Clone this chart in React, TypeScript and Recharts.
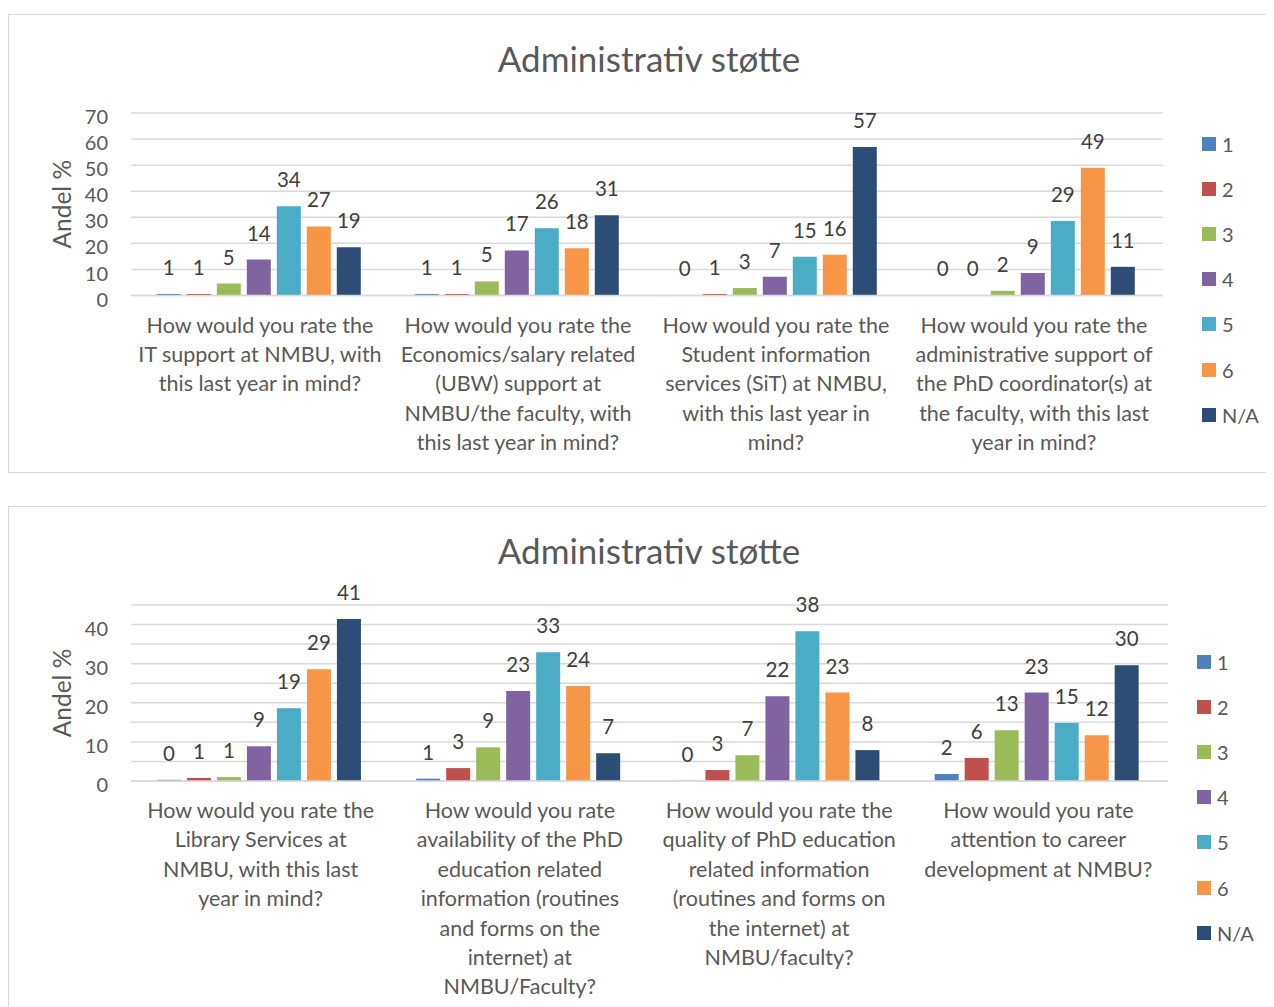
import { BarChart, Bar, XAxis, YAxis, CartesianGrid, LabelList } from "recharts";

const seriesNames = ["1", "2", "3", "4", "5", "6", "N/A"];
const COLORS = ["#4F81BD", "#C0504D", "#9BBB59", "#8064A2", "#4BACC6", "#F79646", "#2C4D75"];

const categoriesTop = [
  "How would you rate the\nIT support at NMBU, with\nthis last year in mind?",
  "How would you rate the\nEconomics/salary related\n(UBW) support at\nNMBU/the faculty, with\nthis last year in mind?",
  "How would you rate the\nStudent information\nservices (SiT) at NMBU,\nwith this last year in\nmind?",
  "How would you rate the\nadministrative support of\nthe PhD coordinator(s) at\nthe faculty, with this last\nyear in mind?",
];

// bars shown as "0" with no visible height are read as ~0.05
const top1 = [0.6, 0.6, 0.05, 0.05];
const top2 = [0.6, 0.6, 0.6, 0.05];
const top3 = [4.6, 5.4, 2.9, 1.8];
const top4 = [13.8, 17.3, 7.2, 8.6];
const top5 = [34.2, 25.8, 14.9, 28.6];
const top6 = [26.5, 18.1, 15.6, 49.0];
const topNA = [18.5, 30.8, 57.0, 11.0];

const categoriesBottom = [
  "How would you rate the\nLibrary Services at\nNMBU, with this last\nyear in mind?",
  "How would you rate\navailability of the PhD\neducation related\ninformation (routines\nand forms on the\ninternet) at\nNMBU/Faculty?",
  "How would you rate the\nquality of PhD education\nrelated information\n(routines and forms on\nthe internet) at\nNMBU/faculty?",
  "How would you rate\nattention to career\ndevelopment at NMBU?",
];

const bot1 = [0.3, 0.6, 0.05, 1.8];
const bot2 = [0.8, 3.3, 2.8, 5.9];
const bot3 = [1.0, 8.6, 6.6, 13.0];
const bot4 = [8.9, 23.0, 21.7, 22.6];
const bot5 = [18.6, 32.9, 38.3, 14.8];
const bot6 = [28.6, 24.3, 22.6, 11.7];
const botNA = [41.4, 7.1, 7.9, 29.6];

const ticksTop = [0, 10, 20, 30, 40, 50, 60, 70];
const ticksBottom = [0, 5, 10, 15, 20, 25, 30, 35, 40, 45];

const FONT = "Lato, 'Open Sans', sans-serif";
const TEXT = "#595959";
const GRID = "#d9d9d9";

const buildRows = (cats: string[], series: number[][]) =>
  cats.map((name, i) => {
    const row: Record<string, string | number> = { name };
    seriesNames.forEach((s, j) => {
      row[s] = series[j][i];
    });
    return row;
  });

const dataTop = buildRows(categoriesTop, [top1, top2, top3, top4, top5, top6, topNA]);
const dataBottom = buildRows(categoriesBottom, [bot1, bot2, bot3, bot4, bot5, bot6, botNA]);

const WrapTick = (props: any) => {
  const { x, y, payload } = props;
  const lines = String(payload.value).split("\n");
  return (
    <text x={x} y={y} textAnchor="middle" fill={TEXT} fontSize={21.5} fontFamily={FONT}>
      {lines.map((l, i) => (
        <tspan key={i} x={x} dy={i === 0 ? 35 : 29.4}>
          {l}
        </tspan>
      ))}
    </text>
  );
};

const AxisTitle = (props: any) => {
  const { viewBox } = props;
  const cx = 52;
  const cy = viewBox.y + viewBox.height / 2;
  return (
    <text
      x={cx}
      y={cy}
      transform={`rotate(-90, ${cx}, ${cy})`}
      textAnchor="middle"
      dominantBaseline="central"
      fill={TEXT}
      fontSize={24.5}
      fontFamily={FONT}
    >
      Andel %
    </text>
  );
};

const LegendBox = ({ left, top }: { left: number; top: number }) => (
  <div style={{ position: "absolute", left, top, fontFamily: FONT, fontSize: 20, color: TEXT }}>
    {seriesNames.map((s, i) => (
      <div key={s} style={{ display: "flex", alignItems: "center", height: 45.2 }}>
        <span style={{ width: 14, height: 14, background: COLORS[i], marginRight: 6 }} />
        <span>{s}</span>
      </div>
    ))}
  </div>
);

const Panel = ({
  data,
  ticks,
  domainMax,
  height,
  plotBottom,
  rightMargin,
  legendLeft,
  legendTop,
  showTick,
}: any) => (
  <div
    style={{
      position: "relative",
      width: 1290,
      height,
      border: `1.5px solid ${GRID}`,
      background: "#fff",
      boxSizing: "border-box",
    }}
  >
    <div
      style={{
        position: "absolute",
        left: 0,
        width: 1280,
        top: 23,
        lineHeight: "40px",
        textAlign: "center",
        fontFamily: FONT,
        fontSize: 35,
        color: TEXT,
      }}
    >
      Administrativ støtte
    </div>
    <BarChart
      width={1288}
      height={plotBottom + 260}
      data={data}
      margin={{ top: 98, right: rightMargin, left: 0, bottom: 90 }}
      barCategoryGap="10%"
      barGap={6}
    >
      <CartesianGrid vertical={false} stroke={GRID} strokeWidth={1.5} />
      <XAxis
        dataKey="name"
        interval={0}
        height={170}
        axisLine={{ stroke: GRID, strokeWidth: 1.5 }}
        tickLine={false}
        tickSize={0}
        tick={<WrapTick />}
      />
      <YAxis
        width={122}
        domain={[0, domainMax]}
        ticks={ticks}
        interval={0}
        axisLine={false}
        tickLine={false}
        tickSize={0}
        tickMargin={23}
        tickFormatter={(v: number) => (showTick(v) ? String(v) : "")}
        tick={{ fill: TEXT, fontSize: 20, fontFamily: FONT, dy: 4 }}
        label={<AxisTitle />}
      />
      {seriesNames.map((s, i) => (
        <Bar key={s} dataKey={s} fill={COLORS[i]} isAnimationActive={false}>
          <LabelList
            dataKey={s}
            position="top"
            offset={19}
            formatter={(v: any) => String(Math.round(Number(v)))}
            fill="#404040"
            fontSize={20.5}
            fontFamily={FONT}
          />
        </Bar>
      ))}
    </BarChart>
    <LegendBox left={legendLeft} top={legendTop} />
  </div>
);

export default function App() {
  return (
    <div style={{ width: 1266, height: 999, overflow: "hidden", position: "relative" }}>
      <style>{`body{overflow:hidden}`}</style>
      <div style={{ position: "absolute", left: 0, top: 6 }}>
        <Panel
          data={dataTop}
          ticks={ticksTop}
          domainMax={70}
          height={459}
          plotBottom={280.5}
          rightMargin={134}
          legendLeft={1193}
          legendTop={106}
          showTick={() => true}
        />
      </div>
      <div style={{ position: "absolute", left: 0, top: 498 }}>
        <Panel
          data={dataBottom}
          ticks={ticksBottom}
          domainMax={45}
          height={540}
          plotBottom={274}
          rightMargin={129}
          legendLeft={1188}
          legendTop={132}
          showTick={(v: number) => v % 10 === 0}
        />
      </div>
    </div>
  );
}
